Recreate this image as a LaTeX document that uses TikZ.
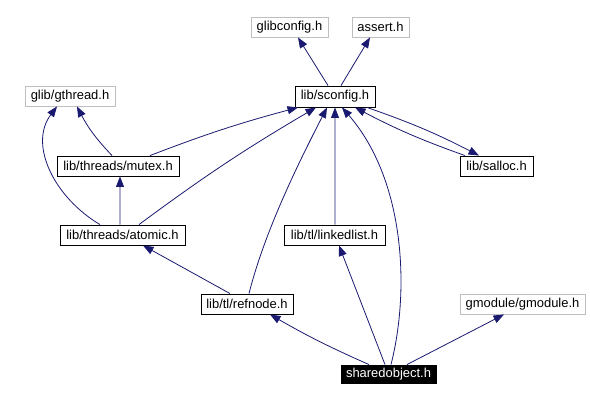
\documentclass[tikz,border=0pt]{standalone}
\usepackage{fontspec}
\setmainfont{Liberation Sans}
\usetikzlibrary{arrows.meta}
\definecolor{edgec}{RGB}{25,25,112}
\definecolor{grayb}{RGB}{191,191,191}
\tikzset{
  box/.style={draw=black, line width=0.9bp, inner sep=0pt, minimum height=20bp, font=\fontsize{13}{14}\selectfont},
  extbox/.style={box, draw=grayb},
  mainbox/.style={box, fill=black, text=white, draw=black},
  dep/.style={draw=edgec, line width=0.8bp, -{Triangle[length=10.5bp,width=8bp]}, fill=none},
}
\begin{document}
\begin{tikzpicture}[x=1bp,y=-1bp]
\useasboundingbox (0,0) rectangle (590,401);
\node[extbox, minimum width=77bp] (glibconfig) at (289.5,27) {glibconfig.h};
\node[extbox, minimum width=57bp] (assert) at (380.5,27) {assert.h};
\node[box, minimum width=80bp, minimum height=21bp] (sconfig) at (335,96.5) {lib/sconfig.h};
\node[extbox, minimum width=90bp] (gthread) at (70,96) {glib/gthread.h};
\node[box, minimum width=122bp] (mutex) at (118,166) {lib/threads/mutex.h};
\node[box, minimum width=73bp] (salloc) at (496.5,166) {lib/salloc.h};
\node[box, minimum width=125bp] (atomic) at (122.5,235) {lib/threads/atomic.h};
\node[box, minimum width=101bp] (linkedlist) at (334.5,235) {lib/tl/linkedlist.h};
\node[box, minimum width=92bp] (refnode) at (247,304) {lib/tl/refnode.h};
\node[extbox, minimum width=125bp] (gmodule) at (522.5,304) {gmodule/gmodule.h};
\node[mainbox, minimum width=95bp, minimum height=18bp] (shared) at (388.5,374) {sharedobject.h};

\draw[dep] ([xshift=-7bp]sconfig.north) -- ([xshift=8.5bp]glibconfig.south);
\draw[dep] ([xshift=6bp]sconfig.north) -- ([xshift=-10.5bp]assert.south);
\draw[dep] ([xshift=-6bp]mutex.north) to[bend left=8] ([xshift=7bp]gthread.south);
\draw[dep] ([xshift=-22.5bp]atomic.north) .. controls (55,198) and (28,145) .. ([xshift=-13bp]gthread.south);
\draw[dep] ([xshift=-2.5bp]atomic.north) -- ([xshift=2bp]mutex.south);
\draw[dep] ([xshift=32bp]mutex.north) to[bend left=3] ([xshift=-37bp]sconfig.south);
\draw[dep] ([xshift=16.5bp]atomic.north) to[bend left=3] ([xshift=-19bp]sconfig.south);
\draw[dep] ([xshift=0.5bp]linkedlist.north) -- (sconfig.south);
\draw[dep] ([xshift=2bp]refnode.north) .. controls (265,230) and (300,160) .. ([xshift=-8bp]sconfig.south);
\draw[dep] ([xshift=2.5bp]shared.north) .. controls (410,290) and (405,180) .. ([xshift=7bp]sconfig.south);
\draw[dep] ([xshift=-31.5bp]salloc.north) to[bend left=4] ([xshift=20bp]sconfig.south);
\draw[dep] ([xshift=32bp]sconfig.south) to[bend left=4] ([xshift=-17.5bp]salloc.north);
\draw[dep] ([xshift=-17bp]refnode.north) -- ([xshift=20.5bp]atomic.south);
\draw[dep] ([xshift=-19.5bp]shared.north) to[bend left=3] ([xshift=23bp]refnode.south);
\draw[dep] ([xshift=-3.5bp]shared.north) -- ([xshift=4.5bp]linkedlist.south);
\draw[dep] ([xshift=18.5bp]shared.north) -- ([xshift=-18.5bp]gmodule.south);
\end{tikzpicture}
\end{document}
